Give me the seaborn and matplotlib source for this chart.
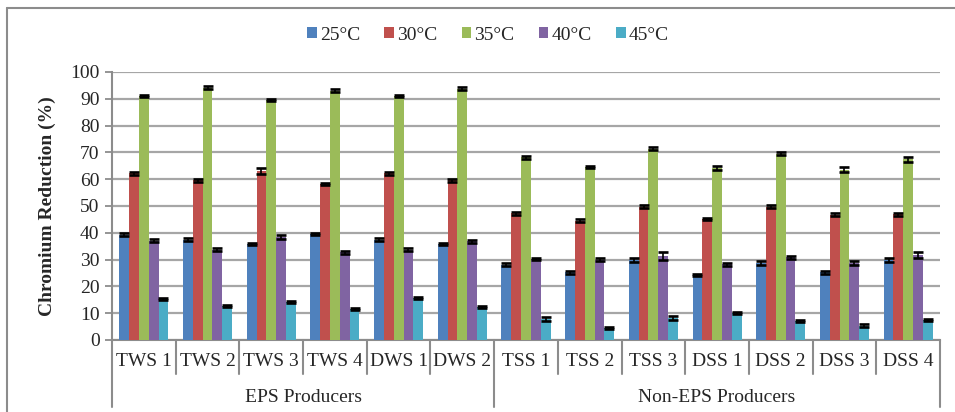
import matplotlib
matplotlib.use("Agg")
import matplotlib.pyplot as plt
from matplotlib.lines import Line2D
import seaborn as sns
import pandas as pd

categories = ["TWS 1", "TWS 2", "TWS 3", "TWS 4", "DWS 1", "DWS 2",
              "TSS 1", "TSS 2", "TSS 3", "DSS 1", "DSS 2", "DSS 3", "DSS 4"]
temps = ["25°C", "30°C", "35°C", "40°C", "45°C"]
groups = ["EPS Producers", "Non-EPS Producers"]
group_sizes = [6, 7]

v25 = [39.3, 37.4, 35.8, 39.5, 37.4, 35.8, 28.1, 25.2, 29.9, 24.4, 28.6, 25.2, 29.9]
v30 = [62.2, 59.6, 63.0, 58.2, 62.2, 59.6, 47.3, 44.5, 49.8, 45.1, 49.8, 46.8, 46.9]
v35 = [90.9, 94.1, 89.5, 93.0, 90.9, 93.8, 68.2, 64.6, 71.4, 64.1, 69.5, 63.6, 67.5]
v40 = [37.0, 33.7, 38.4, 32.7, 33.7, 36.8, 30.2, 29.9, 31.4, 28.2, 30.8, 28.7, 31.8]
v45 = [15.3, 12.6, 14.3, 11.5, 15.7, 12.2, 7.9, 4.4, 8.2, 10.2, 7.1, 5.4, 7.4]

e25 = [0.5, 0.5, 0.5, 0.5, 0.5, 0.5, 0.5, 0.5, 0.8, 0.4, 0.7, 0.4, 0.8]
e30 = [0.5, 0.5, 1.0, 0.5, 0.5, 0.5, 0.5, 0.5, 0.5, 0.5, 0.5, 0.6, 0.5]
e35 = [0.4, 0.5, 0.5, 0.5, 0.4, 0.5, 0.6, 0.4, 0.6, 0.8, 0.5, 0.9, 0.9]
e40 = [0.5, 0.5, 0.7, 0.5, 0.5, 0.5, 0.5, 0.6, 1.5, 0.7, 0.5, 0.6, 1.1]
e45 = [0.5, 0.4, 0.4, 0.4, 0.5, 0.4, 0.7, 0.4, 0.7, 0.4, 0.5, 0.5, 0.4]

values = [v25, v30, v35, v40, v45]
errors = [e25, e30, e35, e40, e45]
colors = ["#4F81BD", "#C0504D", "#9BBB59", "#8064A2", "#4BACC6"]

rows = []
for t, vals in zip(temps, values):
    for c, v in zip(categories, vals):
        rows.append({"Strain": c, "Temperature": t, "Value": v})
df = pd.DataFrame(rows)

sns.set_style("white")
plt.rcParams["font.family"] = ["Liberation Serif", "DejaVu Serif"]

W, H = 955, 412
fig = plt.figure(figsize=(W / 100, H / 100), dpi=100)
ax = fig.add_axes([112 / W, 1 - 340 / H, (940 - 112) / W, (340 - 72) / H])

sns.barplot(data=df, x="Strain", y="Value", hue="Temperature",
            order=categories, hue_order=temps, palette=colors,
            width=0.77, errorbar=None, saturation=1, linewidth=0, ax=ax,
            zorder=3)

# error bars
bar_containers = list(ax.containers)
for j, cont in enumerate(bar_containers):
    xs = [p.get_x() + p.get_width() / 2 for p in cont.patches]
    hs = [p.get_height() for p in cont.patches]
    ax.errorbar(xs, hs, yerr=errors[j], fmt="none", ecolor="black",
                elinewidth=1.2, capsize=3.4, capthick=1.9, zorder=4)

ax.set_xlim(-0.5, len(categories) - 0.5)
ax.set_ylim(0, 100)
ax.set_yticks(range(0, 101, 10))
ax.yaxis.grid(True, color="#a6a6a6", linewidth=1.6, zorder=0)
ax.set_axisbelow(True)
ax.xaxis.grid(False)
for s in ["top", "right"]:
    ax.spines[s].set_visible(False)
for s in ["left", "bottom"]:
    ax.spines[s].set_color("#8c8c8c")
    ax.spines[s].set_linewidth(1.5)
ax.tick_params(axis="y", direction="out", length=5, width=1.3, color="#8c8c8c",
               labelsize=14, pad=4, left=True)
ax.tick_params(axis="x", length=0, labelsize=14, pad=9)
ax.set_xlabel("")
ax.set_ylabel("Chromium Reduction (%)", fontsize=14, fontweight="bold", labelpad=10)

# category separators and group separators
trans = ax.get_xaxis_transform()
bounds = [-0.5]
acc = -0.5
for g in group_sizes:
    acc += g
    bounds.append(acc)
for i in range(len(categories) + 1):
    x = i - 0.5
    y0 = -0.25 if x in bounds else -0.127
    ax.add_line(Line2D([x, x], [0, y0], transform=trans, color="#8c8c8c",
                       linewidth=1.5, clip_on=False))
start = -0.5
for g, n in zip(groups, group_sizes):
    ax.text(start + n / 2, -0.213, g, transform=trans, ha="center", va="center",
            fontsize=14)
    start += n

leg = ax.legend(loc="center", bbox_to_anchor=(488 / W, 1 - 35 / H),
                bbox_transform=fig.transFigure, ncol=5, frameon=False,
                fontsize=14, handlelength=0.5, handleheight=0.5,
                handletextpad=0.15, columnspacing=1.25)

# outer chart frame
fig.add_artist(Line2D([7 / W, 7 / W], [0, 1 - 8 / H], transform=fig.transFigure,
                      color="#8c8c8c", linewidth=1.5))
fig.add_artist(Line2D([7 / W, 1], [1 - 8 / H, 1 - 8 / H], transform=fig.transFigure,
                      color="#8c8c8c", linewidth=1.5))

fig.savefig("out.png", dpi=100)
